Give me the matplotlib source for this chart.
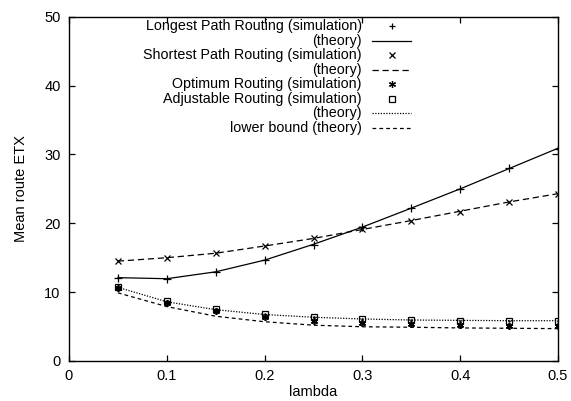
import matplotlib
matplotlib.use('Agg')
import matplotlib.pyplot as plt
from matplotlib.lines import Line2D

plt.rcParams['font.family'] = ['Liberation Sans', 'DejaVu Sans']
plt.rcParams['font.size'] = 10

# data
lam = [0.05, 0.10, 0.15, 0.20, 0.25, 0.30, 0.35, 0.40, 0.45, 0.50]
longest_sim = [12.1, 11.9, 12.95, 14.6, 16.9, 19.4, 22.2, 25.0, 28.0, 30.8]
longest_th = [12.1, 11.95, 12.95, 14.65, 16.95, 19.45, 22.2, 25.0, 27.95, 30.9]
shortest_sim = [14.5, 15.0, 15.65, 16.7, 17.8, 19.1, 20.4, 21.7, 23.1, 24.3]
shortest_th = [14.5, 15.0, 15.65, 16.7, 17.8, 19.1, 20.4, 21.75, 23.1, 24.3]
optimum_sim = [10.6, 8.45, 7.25, 6.4, 5.85, 5.55, 5.3, 5.2, 5.15, 5.1]
adjust_sim = [10.8, 8.7, 7.5, 6.85, 6.4, 6.1, 5.95, 5.85, 5.85, 5.8]
adjust_th = [10.7, 8.6, 7.45, 6.75, 6.35, 6.1, 5.95, 5.9, 5.85, 5.85]
lower_th = [9.9, 7.9, 6.5, 5.7, 5.2, 4.97, 4.9, 4.8, 4.75, 4.7]

fig = plt.figure(figsize=(5.71, 4.01), dpi=100)
ax = fig.add_axes([0.1208, 0.0998, 0.8565, 0.8585])

lw = 0.9
ax.plot(lam, longest_th, color='black', lw=lw, ls='-')
ax.plot(lam, shortest_th, color='black', lw=lw, ls=(0, (5, 3)))
ax.plot(lam, adjust_th, color='black', lw=lw, ls=(0, (1, 1.2)))
ax.plot(lam, lower_th, color='black', lw=lw, ls=(0, (3, 2.5)))

ax.plot(lam, longest_sim, ls='none', marker='+', ms=6, mew=0.9, color='black')
ax.plot(lam, shortest_sim, ls='none', marker='x', ms=5, mew=0.9, color='black')
ax.plot(lam, optimum_sim, ls='none', marker=(6, 2, 0), ms=5, mew=1.2, color='black')
ax.plot(lam, adjust_sim, ls='none', marker='s', ms=5, mew=0.9, mfc='none', mec='black')
ax.plot(lam, adjust_sim, ls='none', marker='.', ms=1.5, color='black')

ax.set_xlim(0, 0.5)
ax.set_ylim(0, 50)
ax.set_xticks([0, 0.1, 0.2, 0.3, 0.4, 0.5])
ax.set_xticklabels(['0', '0.1', '0.2', '0.3', '0.4', '0.5'])
ax.set_yticks([0, 10, 20, 30, 40, 50])
ax.tick_params(direction='in', length=4.5, width=0.9, top=True, right=True, labelsize=10.5, pad=6)
for s in ax.spines.values():
    s.set_linewidth(1.0)
ax.set_xlabel('lambda', fontsize=10.5, labelpad=1)
ax.set_ylabel('Mean route ETX', fontsize=10.5, labelpad=12)

# gnuplot style key: right-aligned text, sample on the right
labels = ['Longest Path Routing (simulation)', '(theory)',
          'Shortest Path Routing (simulation)', '(theory)',
          'Optimum Routing (simulation)', 'Adjustable Routing (simulation)',
          '(theory)', 'lower bound (theory)']
samples = [('+', None), (None, '-'), ('x', None), (None, (0, (5, 3))),
           ((6, 2, 0), None), ('s', None), (None, (0, (1, 1.2))), (None, (0, (3, 2.5)))]
for i, (lab, (mk, ls)) in enumerate(zip(labels, samples)):
    ypx = 26 + 14.5 * i
    ya = (361 - ypx) / 344.3
    ax.text(0.599, ya, lab, transform=ax.transAxes, ha='right', va='center', fontsize=10.3)
    if mk is not None:
        if mk == 's':
            ax.add_line(Line2D([0.660], [ya], transform=ax.transAxes, marker='s', ms=5,
                               mfc='none', mec='black', mew=0.9, ls='none'))
        else:
            ax.add_line(Line2D([0.660], [ya], transform=ax.transAxes, marker=mk, ms=5,
                               color='black', mew=0.9, ls='none'))
    else:
        ax.add_line(Line2D([0.620, 0.699], [ya, ya], transform=ax.transAxes,
                           color='black', lw=lw, ls=ls))

fig.savefig('out.png', dpi=100)
